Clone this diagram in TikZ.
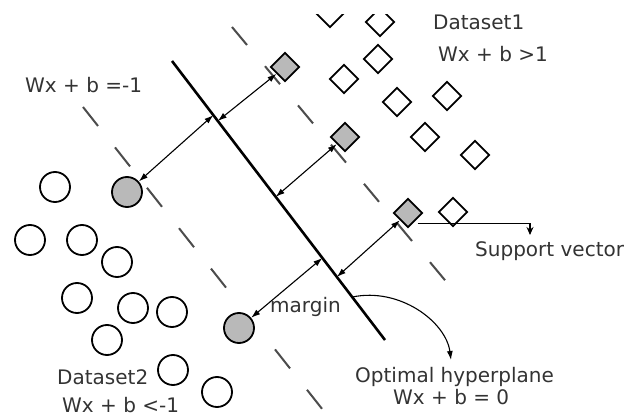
\documentclass[tikz,border=0pt]{standalone}
\usepackage{fontspec}
\setmainfont{DejaVu Sans}
\usetikzlibrary{shapes.geometric, arrows.meta, calc}

\tikzset{
  >={Latex[length=9pt,width=6pt]},
  lbl/.style={anchor=base west, inner sep=0pt, text=black!80,
    font=\fontsize{20}{24}\selectfont},
  circ/.style={circle, draw, line width=1.8pt, fill=white,
    minimum size=30pt, inner sep=0pt},
  diam/.style={diamond, draw, line width=1.8pt, fill=white,
    minimum size=29pt, inner sep=0pt},
  svec/.style={fill=gray!55},
  mdash/.style={line width=2pt, black!70},
  marrow/.style={<->, line width=1.1pt},
}

\begin{document}
\begin{tikzpicture}[x=1pt, y=-1pt]
  \useasboundingbox (0,0) rectangle (627,419);

  % Margin lines
  \foreach \i in {0,...,4,6,7}
    \draw[mdash] (83+32*\i, 107+40.4*\i) -- ++(15,19);
  \foreach \i in {0,...,6}
    \draw[mdash] (232+33*\i, 27+39.2*\i) -- ++(15,18);

  % Separating hyperplane
  \coordinate (hpA) at (172,61);
  \coordinate (hpB) at (385,340);
  \draw[line width=2.6pt] (hpA) -- (hpB);

  % Dataset1 (diamonds)
  \begin{scope}
    \clip (0,15) rectangle (627,419);
    \foreach \x/\y [count=\n] in {330/13, 380/22, 378/59, 344/79, 397/102,
        447/96, 425/137, 475/155, 453/212}
      \node[diam] (d\n) at (\x,\y) {};
  \end{scope}
  \node[diam, svec] (sv1) at (285,67) {};
  \node[diam, svec] (sv2) at (345,137) {};
  \node[diam, svec] (sv3) at (408,213) {};

  % Dataset2 (circles)
  \foreach \x/\y [count=\n] in {55/187, 30/240, 82/240, 117/262, 77/298,
      133/308, 172/312, 107/340, 173/370, 217/392}
    \node[circ] (c\n) at (\x,\y) {};
  \node[circ, svec] (sc1) at (127,192) {};
  \node[circ, svec] (sc2) at (239,328) {};

  % Margin arrows
  \coordinate (h1) at ($(hpA)!0.194!(hpB)$);
  \coordinate (h2) at ($(hpA)!0.215!(hpB)$);
  \coordinate (h3) at ($(hpA)!0.487!(hpB)$);
  \coordinate (h4) at ($(hpA)!0.774!(hpB)$);
  \coordinate (h5) at ($(hpA)!0.706!(hpB)$);
  \draw[marrow] (sc1) -- (h1);
  \draw[marrow] (h2) -- (sv1);
  \draw[marrow] (h3) -- (sv2);
  \draw[marrow] (h4) -- (sv3);
  \draw[marrow] (sc2) -- (h5);

  % Labels
  \node[lbl] (eqneg) at (25,93) {Wx + b =-1};
  \node[lbl] (ds1) at (433,30) {Dataset1};
  \node[lbl] (eqgt) at (438,62) {Wx + b >1};
  \node[lbl] (svlbl) at (475,257) {Support vector};
  \node[lbl] (mlbl) at (270,313) {margin};
  \node[lbl] (ds2) at (57,385) {Dataset2};
  \node[lbl] (eqlt) at (62,413) {Wx + b <-1};
  \node[lbl] (optlbl) at (355,383) {Optimal hyperplane};
  \node[lbl] (eqzero) at (393,405) {Wx + b = 0};

  % Pointers to the labels
  \coordinate (svtip) at (530,235);
  \draw[->, line width=1.1pt, >={Stealth[length=8pt,width=7pt]}]
    (sv3.south east) ++(2,3) -| (svtip);
  \coordinate (hpc) at ($(hpA)!0.846!(hpB)$);
  \coordinate (optip) at (451,360);
  \draw[->, line width=1.1pt] (hpc) .. controls (400,287) and (446,322) .. (optip);
\end{tikzpicture}
\end{document}
